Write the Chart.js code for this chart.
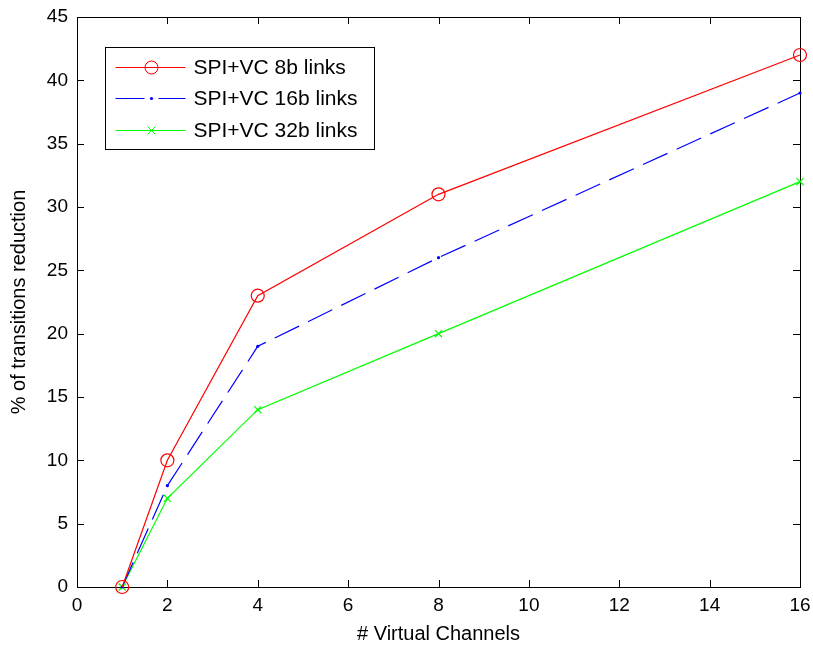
<!DOCTYPE html>
<html>
<head>
<meta charset="utf-8">
<script src="https://cdn.jsdelivr.net/npm/chart.js@4.4.1/dist/chart.umd.min.js"></script>
<style>
  html, body { margin: 0; padding: 0; background: #fff; }
  canvas { display: block; }
</style>
</head>
<body>
<canvas id="vcChart" width="813" height="647"></canvas>
<script>
// data
const channels = [1, 2, 4, 8, 16];
const links8 = [0, 10, 23, 31, 42];
const links16 = [0, 8, 19, 26, 39];
const links32 = [0, 7, 14, 20, 32];
const seriesNames = ['SPI+VC 8b links', 'SPI+VC 16b links', 'SPI+VC 32b links'];
const xTicks = [0, 2, 4, 6, 8, 10, 12, 14, 16];
const yTicks = [0, 5, 10, 15, 20, 25, 30, 35, 40, 45];

const toPoints = vals => channels.map((c, i) => ({ x: c, y: vals[i] }));

Chart.defaults.font.family = 'Arial, "Liberation Sans", sans-serif';
Chart.defaults.color = '#000';

// MATLAB style box with inward ticks on all four sides
const boxTicks = {
  id: 'boxTicks',
  beforeDatasetsDraw(chart) {
    const { ctx, chartArea: a, scales } = chart;
    const len = 7;
    ctx.save();
    ctx.strokeStyle = '#000';
    ctx.lineWidth = 1;
    ctx.beginPath();
    scales.x.ticks.forEach(t => {
      const px = Math.round(scales.x.getPixelForValue(t.value)) + 0.5;
      ctx.moveTo(px, a.bottom); ctx.lineTo(px, a.bottom - len);
      ctx.moveTo(px, a.top); ctx.lineTo(px, a.top + len);
    });
    scales.y.ticks.forEach(t => {
      const py = Math.round(scales.y.getPixelForValue(t.value)) + 0.5;
      ctx.moveTo(a.left, py); ctx.lineTo(a.left + len, py);
      ctx.moveTo(a.right, py); ctx.lineTo(a.right - len, py);
    });
    ctx.stroke();
    ctx.strokeRect(Math.round(a.left) + 0.5, Math.round(a.top) + 0.5,
      Math.round(a.right - a.left), Math.round(a.bottom - a.top));
    ctx.restore();
  }
};

// legend box in the upper left of the axes
const boxLegend = {
  id: 'boxLegend',
  afterDraw(chart) {
    const { ctx, chartArea: a } = chart;
    const x0 = Math.round(a.left) + 28.5, y0 = Math.round(a.top) + 30.5;
    const w = 269, h = 102;
    ctx.save();
    ctx.fillStyle = '#fff';
    ctx.fillRect(x0, y0, w, h);
    ctx.strokeStyle = '#000';
    ctx.lineWidth = 1;
    ctx.strokeRect(x0, y0, w, h);
    ctx.font = '21px Arial, "Liberation Sans", sans-serif';
    ctx.textBaseline = 'middle';
    chart.data.datasets.forEach((ds, i) => {
      const y = Math.round(y0 + 19 + i * 31.5) + 0.5;
      const lx = x0 + 10, rx = x0 + 80, mx = x0 + 46;
      ctx.strokeStyle = ds.borderColor;
      ctx.fillStyle = ds.borderColor;
      ctx.lineWidth = 1;
      ctx.beginPath();
      if (i === 1) {
        ctx.moveTo(lx, y); ctx.lineTo(mx - 7, y);
        ctx.moveTo(mx + 7, y); ctx.lineTo(rx, y);
      } else {
        ctx.moveTo(lx, y); ctx.lineTo(rx, y);
      }
      ctx.stroke();
      ctx.beginPath();
      if (i === 0) {
        ctx.arc(mx, y, 6.5, 0, Math.PI * 2);
        ctx.stroke();
      } else if (i === 1) {
        ctx.arc(mx, y, 1.6, 0, Math.PI * 2);
        ctx.fill();
      } else {
        ctx.moveTo(mx - 4, y - 4); ctx.lineTo(mx + 4, y + 4);
        ctx.moveTo(mx - 4, y + 4); ctx.lineTo(mx + 4, y - 4);
        ctx.stroke();
      }
      ctx.fillStyle = '#000';
      ctx.fillText(ds.label, x0 + 88, y + 1);
    });
    ctx.restore();
  }
};

new Chart(document.getElementById('vcChart'), {
  type: 'line',
  data: {
    datasets: [
      {
        label: seriesNames[0],
        data: toPoints(links8),
        borderColor: '#ff0000',
        borderWidth: 1.2,
        pointStyle: 'circle',
        pointRadius: 6.5,
        pointBorderWidth: 1.2,
        pointBackgroundColor: 'rgba(0,0,0,0)',
        pointBorderColor: '#ff0000',
        clip: false
      },
      {
        label: seriesNames[1],
        data: toPoints(links16),
        borderColor: '#0000ff',
        borderWidth: 1.2,
        borderDash: [27, 10],
        pointStyle: 'circle',
        pointRadius: 1.6,
        pointBorderWidth: 0,
        pointBackgroundColor: '#0000ff',
        clip: false
      },
      {
        label: seriesNames[2],
        data: toPoints(links32),
        borderColor: '#00ff00',
        borderWidth: 1.2,
        pointStyle: 'crossRot',
        pointRadius: 5,
        pointBorderWidth: 1.2,
        pointBorderColor: '#00ff00',
        clip: false
      }
    ]
  },
  options: {
    responsive: false,
    animation: false,
    devicePixelRatio: 1,
    layout: { padding: { top: 17, right: 13, left: 0, bottom: 0 } },
    plugins: {
      legend: { display: false },
      tooltip: { enabled: false }
    },
    elements: { line: { tension: 0 } },
    scales: {
      x: {
        type: 'linear',
        min: 0,
        max: 16,
        afterBuildTicks: s => { s.ticks = xTicks.map(v => ({ value: v })); },
        afterFit: s => { s.height = 60; s.paddingLeft = 0; s.paddingRight = 0; },
        grid: { display: false, drawTicks: false },
        border: { display: false },
        ticks: { font: { size: 19 }, padding: 7, maxRotation: 0 },
        title: {
          display: true,
          text: '# Virtual Channels',
          font: { size: 20 },
          padding: { top: 0, bottom: 1 }
        }
      },
      y: {
        type: 'linear',
        min: 0,
        max: 45,
        afterBuildTicks: s => { s.ticks = yTicks.map(v => ({ value: v })); },
        afterFit: s => { s.width = 77; s.paddingTop = 0; s.paddingBottom = 0; },
        grid: { display: false, drawTicks: false },
        border: { display: false },
        ticks: { font: { size: 19 }, padding: 9 },
        title: {
          display: true,
          text: '% of transitions reduction',
          font: { size: 20 },
          padding: { top: 7, bottom: 0 }
        }
      }
    }
  },
  plugins: [boxTicks, boxLegend]
});
</script>
</body>
</html>
